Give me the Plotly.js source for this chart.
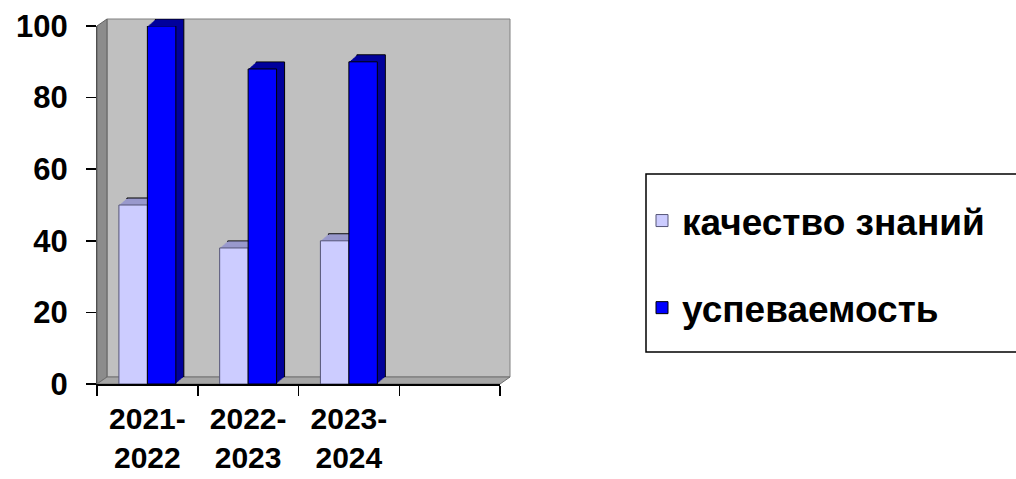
<!DOCTYPE html>
<html>
<head>
<meta charset="utf-8">
<script src="https://cdn.plot.ly/plotly-3.0.1.min.js"></script>
<style>html,body{margin:0;padding:0;background:#fff;}#chart{width:1016px;height:479px;}</style>
</head>
<body>
<div id="chart"></div>
<script>
// ---- data ----
const categories = ['2021-<br>2022', '2022-<br>2023', '2023-<br>2024', '\u00a0'];
const years = categories.slice(0, 3);
const seriesNames = ['качество знаний', 'успеваемость'];
const quality = [50, 38, 40];
const progress = [100, 88, 90];
const yTicks = [0, 20, 40, 60, 80, 100];

// ---- geometry (pixels) ----
const W = 1016, H = 479;
const L = 97, R = 506, T = 19, B = 95;
const PW = W - L - R;            // 413
const PH = H - T - B;            // 365
const frontW = 403, frontH = 358;
const wallDX = 10, wallDY = 7;
const barDepth = 8, barDYper = 7 / 8;

const FONT = 'Liberation Sans, Arial, sans-serif';
const frontColors = ['#CCCCFF', '#0000FF'];
const depthColors = ['#9999CC', '#00009C'];
const frontLines = ['#555577', '#000000'];

const traces = [];
const layout = {
  width: W, height: H, autosize: false,
  margin: {l: L, r: R, t: T, b: B, pad: 0},
  paper_bgcolor: '#ffffff',
  plot_bgcolor: 'rgba(0,0,0,0)',
  barmode: 'group',
  bargap: 0.435,
  bargroupgap: 0,
  showlegend: true,
  font: {family: FONT, color: '#000'},
  legend: {
    xref: 'container', yref: 'container',
    x: 642 / W, y: 1 - 190 / H, xanchor: 'left', yanchor: 'top',
    bgcolor: 'rgba(0,0,0,0)', borderwidth: 0,
    font: {family: FONT, size: 37, color: '#000', weight: 'bold'},
    traceorder: 'grouped', tracegroupgap: 36,
    itemwidth: 30
  },
  shapes: []
};

function px2paperX(px) { return (px - L) / PW; }
function px2paperY(py) { return (H - B - py) / PH; }

// legend frame (decoration)
layout.shapes.push({type: 'rect', xref: 'paper', yref: 'paper', layer: 'below',
  x0: px2paperX(646), x1: px2paperX(1030), y0: px2paperY(352), y1: px2paperY(174),
  fillcolor: '#ffffff', line: {color: '#000000', width: 1.5}});

// back wall subplot (xy): gridlines only
layout.xaxis = {domain: [wallDX / PW, (frontW + wallDX) / PW], range: [-0.5, 3.5], visible: false, fixedrange: true};
layout.yaxis = {domain: [wallDY / PH, (frontH + wallDY) / PH], range: [0, 100], tickvals: yTicks,
  showgrid: true, gridcolor: '#555555', gridwidth: 1.5, zeroline: false, showticklabels: false,
  ticks: '', showline: false, fixedrange: true};

// walls & floor as decoration
const bx0 = L + wallDX, bx1 = L + frontW + wallDX, by0 = T, by1 = H - B - wallDY;
const fx0 = L, fx1 = L + frontW, fy0 = H - B - frontH, fy1 = H - B;
layout.shapes.push({type: 'rect', xref: 'paper', yref: 'paper', layer: 'below',
  x0: px2paperX(bx0), x1: px2paperX(bx1), y0: px2paperY(by1), y1: px2paperY(by0),
  fillcolor: '#C0C0C0', line: {color: '#808080', width: 1}});
layout.shapes.push({type: 'path', xref: 'paper', yref: 'paper', layer: 'below',
  path: `M${px2paperX(fx0)},${px2paperY(fy0)} L${px2paperX(bx0)},${px2paperY(by0)} L${px2paperX(bx0)},${px2paperY(by1)} L${px2paperX(fx0)},${px2paperY(fy1)} Z`,
  fillcolor: '#8C8C8C', line: {color: '#606060', width: 1}});
layout.shapes.push({type: 'path', xref: 'paper', yref: 'paper', layer: 'below',
  path: `M${px2paperX(fx0)},${px2paperY(fy1)} L${px2paperX(fx1)},${px2paperY(fy1)} L${px2paperX(bx1)},${px2paperY(by1)} L${px2paperX(bx0)},${px2paperY(by1)} Z`,
  fillcolor: '#A6A6A6', line: {color: '#707070', width: 1}});

// depth copies: farthest first
let axN = 2;
for (let k = barDepth; k >= 1; k--) {
  const xa = 'xaxis' + axN, ya = 'yaxis' + axN;
  const dx = k, dy = k * barDYper;
  layout[xa] = {domain: [dx / PW, (frontW + dx) / PW], type: 'category', categoryorder: 'array',
    categoryarray: categories, range: [-0.5, 3.5], visible: false, fixedrange: true, anchor: 'y' + axN};
  layout[ya] = {domain: [dy / PH, (frontH + dy) / PH], range: [0, 100], visible: false, fixedrange: true, anchor: 'x' + axN};
  [quality, progress].forEach((vals, i) => {
    traces.push({type: 'bar', x: years, y: vals, xaxis: 'x' + axN, yaxis: 'y' + axN,
      marker: {color: depthColors[i], line: {color: '#000', width: k === barDepth ? 1 : 0}},
      showlegend: false, hoverinfo: 'skip', name: seriesNames[i] + ' depth'});
  });
  axN++;
}

// front bars
const fa = axN;
layout['xaxis' + fa] = {domain: [0, frontW / PW], type: 'category', categoryorder: 'array',
  categoryarray: categories, range: [-0.5, 3.5], tickson: 'boundaries',
  ticks: 'outside', ticklen: 10, tickwidth: 1.5, tickcolor: '#000',
  showline: true, linecolor: '#000', linewidth: 1.5, showgrid: false, zeroline: false,
  tickfont: {family: FONT, size: 30, color: '#000', weight: 'bold'}, ticklabelstandoff: 7,
  anchor: 'y' + fa, fixedrange: true};
layout['yaxis' + fa] = {domain: [0, frontH / PH], range: [0, 100], tickvals: yTicks,
  ticks: 'outside', ticklen: 10, tickwidth: 1.5, tickcolor: '#000',
  showline: true, linecolor: '#505050', linewidth: 1, showgrid: false, zeroline: false,
  tickfont: {family: FONT, size: 31, color: '#000', weight: 'bold'}, ticklabelstandoff: 12,
  anchor: 'x' + fa, fixedrange: true};
[quality, progress].forEach((vals, i) => {
  traces.push({type: 'bar', x: years, y: vals, xaxis: 'x' + fa, yaxis: 'y' + fa,
    marker: {color: frontColors[i], line: {color: frontLines[i], width: 1}},
    name: seriesNames[i], legendgroup: 'g' + i, showlegend: true, hoverinfo: 'skip'});
});

Plotly.newPlot('chart', traces, layout, {displayModeBar: false, staticPlot: true});
</script>
</body>
</html>
